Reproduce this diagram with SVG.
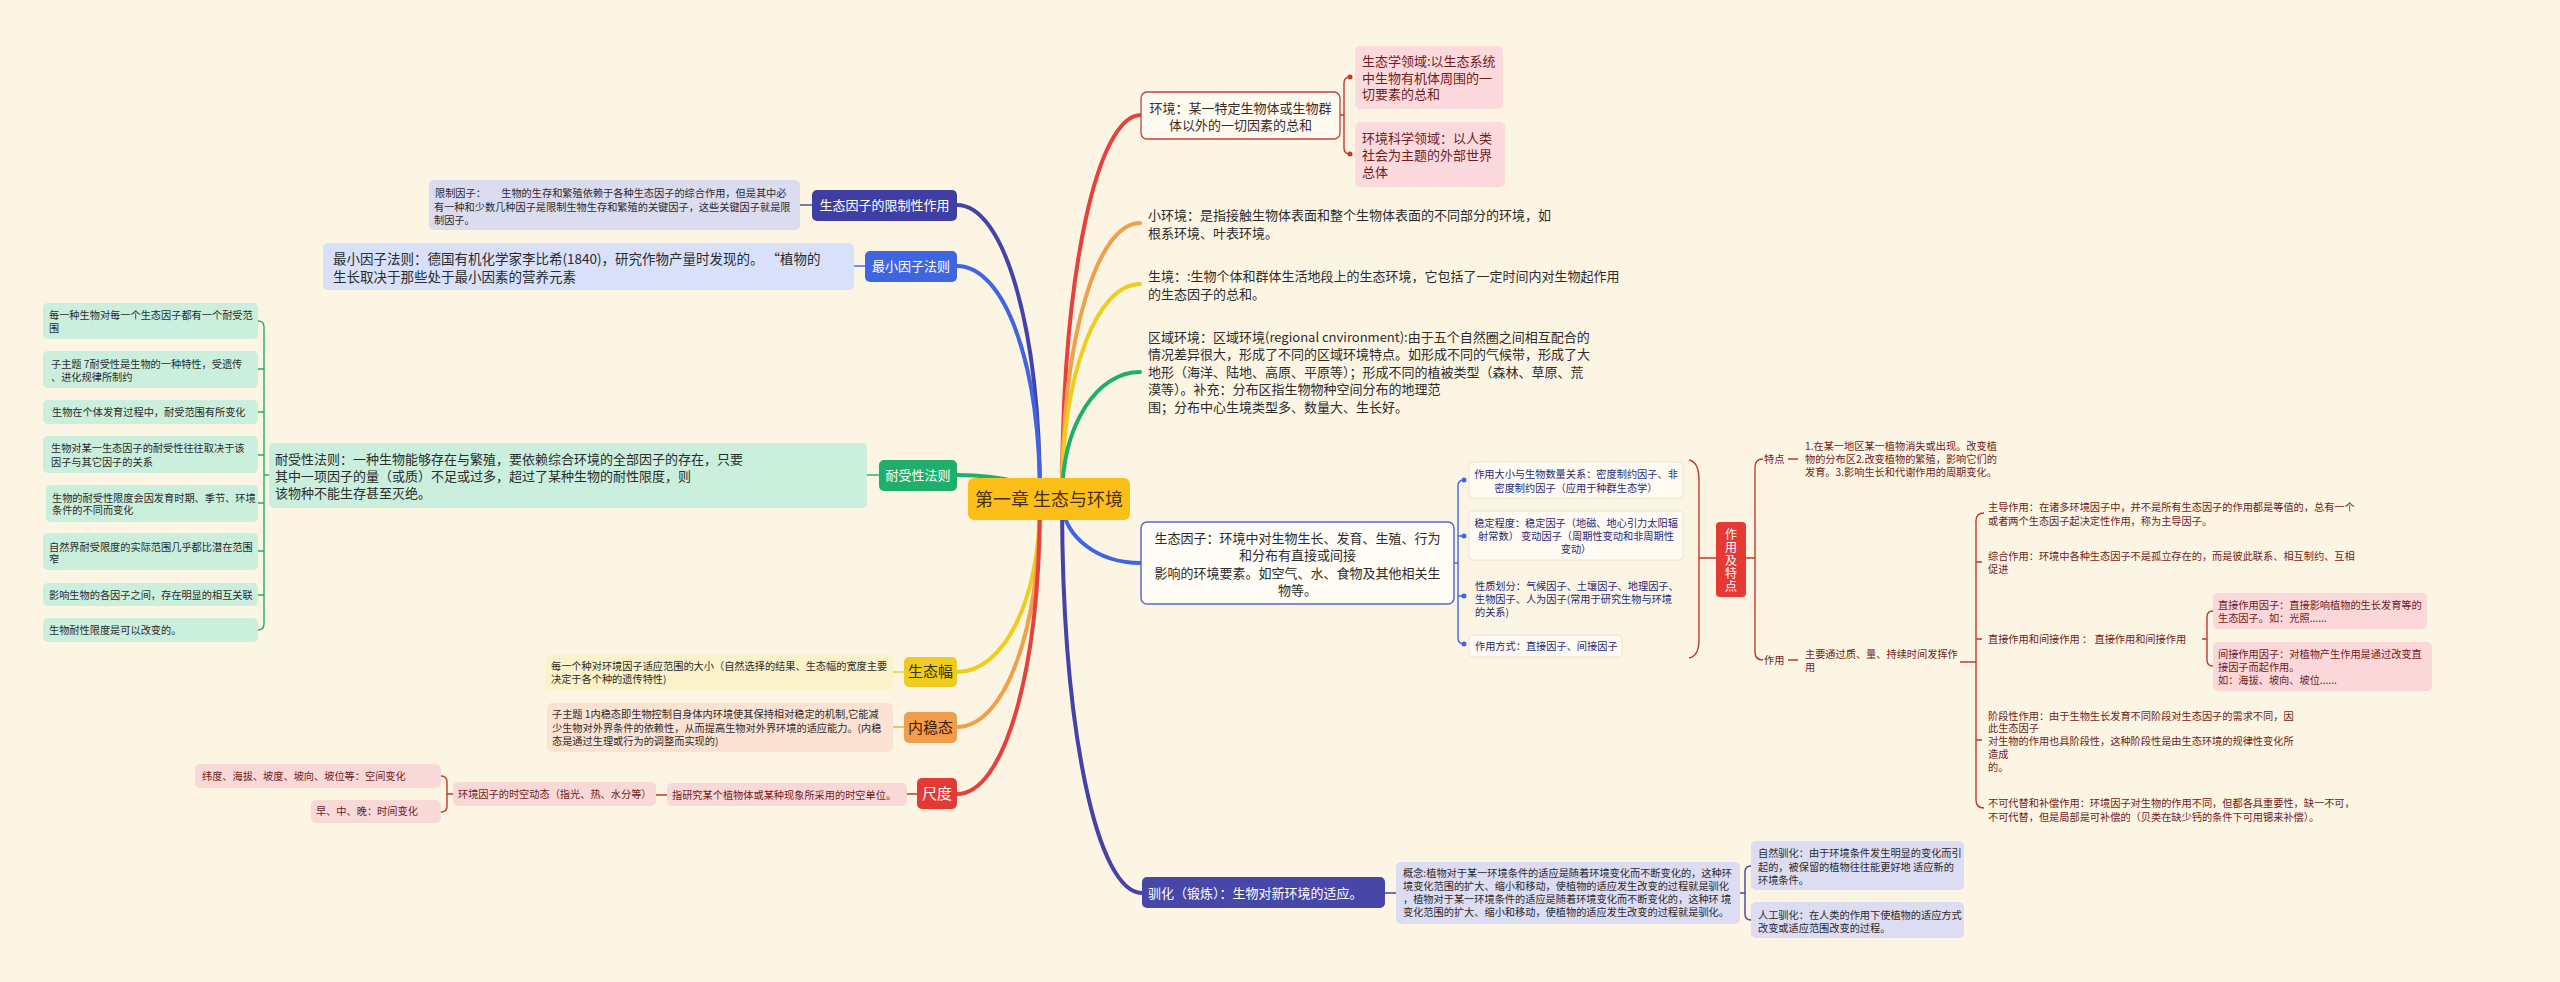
<svg xmlns="http://www.w3.org/2000/svg" width="2560" height="982" viewBox="0 0 2560 982">
<style>
text{font-family:"Noto Sans CJK SC","Liberation Sans",sans-serif;}
.s{font-size:10.2px;}
.m{font-size:13px;}
.l{font-size:13.5px;}
.x{font-size:15px;}
.c{text-anchor:middle;}
.w{fill:#ffffff;}
.dk{fill:#2b2b2b;}
.dr{fill:#6e1c1c;}
.nv{fill:#1f2a78;}
.br{fill:none;stroke-width:1.4;}
.cn{fill:none;stroke-width:4;stroke-linecap:round;}
.red{stroke:#e8403a;} .ora{stroke:#f0a04b;} .yel{stroke:#efcc20;} .grn{stroke:#1fae6b;} .blu{stroke:#3f66e0;} .ind{stroke:#4343a8;} .drd{stroke:#c0392b;}
</style>
<rect x="0" y="0" width="2560" height="982" fill="#fdf5e3"/>

<g id="connectors">
  <path class="cn red" d="M1062,499 C1062,269 1098,115 1141,115"/>
  <path class="cn ora" d="M1062,499 C1062,333 1098,223 1140,223"/>
  <path class="cn yel" d="M1062,499 C1062,370 1098,284 1140,284"/>
  <path class="cn grn" d="M1062,499 C1062,423 1098,372 1140,372"/>
  <path class="cn blu" d="M1062,499 C1062,537 1098,563 1141,563"/>
  <path class="cn ind" d="M1062,499 C1062,735 1098,893 1142,893"/>
  <path class="cn ind" d="M1040,499 C1040,323 1003,205 957,205"/>
  <path class="cn blu" d="M1040,499 C1040,359 1003,266 957,266"/>
  <path class="cn grn" d="M1040,499 C1040,485 1003,475 957,475"/>
  <path class="cn yel" d="M1040,499 C1040,603 1003,672 957,672"/>
  <path class="cn ora" d="M1040,499 C1040,636 1003,727 957,727"/>
  <path class="cn red" d="M1040,499 C1040,676 1003,794 957,794"/>

  <path class="br ind" d="M800,205 H812"/>
  <path class="br blu" d="M854,266 H865"/>
  <path class="br grn" d="M867,475 H879"/>
  <path class="br grn" d="M258,321 Q264,321 264,327 L264,624 Q264,630 258,630 M258,369 H264 M258,412 H264 M258,455 H264 M258,503 H264 M258,551 H264 M258,595 H264 M264,475 H269"/>
  <path class="br yel" d="M893,672 H904"/>
  <path class="br ora" d="M893,727 H904"/>
  <path class="br drd" d="M907,794 H917 M656,795 H667"/>
  <path class="br drd" d="M441,776 Q447,776 447,782 L447,806 Q447,812 441,812 M447,794 H453"/>

  <path class="br drd" d="M1340,115 H1344 M1350,77 Q1344,77 1344,83 L1344,148 Q1344,154 1350,154"/>
  <circle cx="1350" cy="77" r="2.5" fill="#c0392b"/>
  <circle cx="1350" cy="154" r="2.5" fill="#c0392b"/>
  <path class="br blu" d="M1454,563 H1458 M1464,480 Q1458,480 1458,486 L1458,638 Q1458,644 1464,644 M1458,536 H1464 M1458,596 H1464"/>
  <circle cx="1464" cy="480" r="2.5" fill="#3f66e0"/>
  <circle cx="1464" cy="536" r="2.5" fill="#3f66e0"/>
  <circle cx="1464" cy="596" r="2.5" fill="#3f66e0"/>
  <circle cx="1464" cy="644" r="2.5" fill="#3f66e0"/>
  <path class="br drd" d="M1689,460 Q1699,462 1699,480 L1699,640 Q1699,656 1689,658 M1699,558 H1716"/>
  <path class="br drd" d="M1746,558 H1755 M1763,459 Q1755,459 1755,467 L1755,652 Q1755,660 1763,660"/>
  <path class="br drd" d="M1788,459 H1798 M1788,660 H1798 M1960,662 H1976"/>
  <path class="br drd" d="M1984,513 Q1976,513 1976,521 L1976,800 Q1976,808 1984,808 M1976,562 H1982 M1976,639 H1982 M1976,740 H1982"/>
  <path class="br drd" d="M2202,639 H2207 M2213,611 Q2207,611 2207,617 L2207,660 Q2207,666 2213,666"/>
  <path class="br ind" d="M1385,893 H1396 M1740,893 H1745 M1751,866 Q1745,866 1745,872 L1745,914 Q1745,920 1751,920"/>
</g>

<g id="root">
  <rect x="968" y="478" width="162" height="42" rx="6" fill="#fbbf17"/>
  <text x="1049" y="505.5" class="c" font-size="18" fill="#4a3000">第一章 生态与环境</text>
</g>

<g id="limit-factor">
  <rect x="429" y="180" width="371" height="50" rx="5" fill="#dcdcf0"/>
  <text class="s dk" x="435" y="196.6">限制因子：　　生物的生存和繁殖依赖于各种生态因子的综合作用，但是其中必</text>
  <text class="s dk" x="434" y="210.6">有一种和少数几种因子是限制生物生存和繁殖的关键因子，这些关键因子就是限</text>
  <text class="s dk" x="434" y="223.6">制因子。</text>
</g>
<g id="limit-branch">
  <rect x="812" y="190" width="145" height="31" rx="5" fill="#3f3fa3"/>
  <text class="m c w" x="884.5" y="210.2">生态因子的限制性作用</text>
</g>
<g id="min-law-text">
  <rect x="323" y="243" width="531" height="47" rx="5" fill="#d8e1f9"/>
  <text class="l dk" x="333" y="264">最小因子法则：德国有机化学家李比希(1840)，研究作物产量时发现的。 “植物的</text>
  <text class="l dk" x="333" y="282">生长取决于那些处于最小因素的营养元素</text>
</g>
<g id="min-law">
  <rect x="865" y="251" width="92" height="31" rx="5" fill="#3f66e0"/>
  <text class="m c w" x="911" y="271.2">最小因子法则</text>
</g>

<g id="tol-1"><rect x="43" y="303" width="215" height="36" rx="5" fill="#cbefdd"/>
  <text class="s dk" x="49" y="318.6">每一种生物对每一个生态因子都有一个耐受范</text><text class="s dk" x="49" y="331.6">围</text></g>
<g id="tol-2"><rect x="43" y="351" width="215" height="37" rx="5" fill="#cbefdd"/>
  <text class="s dk" x="51" y="367.6">子主题 7耐受性是生物的一种特性，受遗传</text><text class="s dk" x="51" y="380.6">、进化规律所制约</text></g>
<g id="tol-3"><rect x="43" y="400" width="215" height="24" rx="5" fill="#cbefdd"/>
  <text class="s dk" x="52" y="415.6">生物在个体发育过程中，耐受范围有所变化</text></g>
<g id="tol-4"><rect x="43" y="436" width="215" height="37" rx="5" fill="#cbefdd"/>
  <text class="s dk" x="51" y="451.6">生物对某一生态因子的耐受性往往取决于该</text><text class="s dk" x="51" y="465.6">因子与其它因子的关系</text></g>
<g id="tol-5"><rect x="46" y="485" width="212" height="37" rx="5" fill="#cbefdd"/>
  <text class="s dk" x="52" y="501.6">生物的耐受性限度会因发育时期、季节、环境</text><text class="s dk" x="52" y="513.6">条件的不同而变化</text></g>
<g id="tol-6"><rect x="43" y="533" width="215" height="37" rx="5" fill="#cbefdd"/>
  <text class="s dk" x="49" y="550.6">自然界耐受限度的实际范围几乎都比潜在范围</text><text class="s dk" x="49" y="562.6">窄</text></g>
<g id="tol-7"><rect x="43" y="583" width="215" height="23" rx="5" fill="#cbefdd"/>
  <text class="s dk" x="49" y="598.6">影响生物的各因子之间，存在明显的相互关联</text></g>
<g id="tol-8"><rect x="43" y="618" width="215" height="24" rx="5" fill="#cbefdd"/>
  <text class="s dk" x="49" y="633.6">生物耐性限度是可以改变的。</text></g>

<g id="tol-law-text">
  <rect x="269" y="443" width="598" height="65" rx="5" fill="#cbefdd"/>
  <text class="m dk" x="275" y="463.6">耐受性法则：一种生物能够存在与繁殖，要依赖综合环境的全部因子的存在，只要</text>
  <text class="m dk" x="275" y="480.6">其中一项因子的量（或质）不足或过多，超过了某种生物的耐性限度，则</text>
  <text class="m dk" x="275" y="497.6">该物种不能生存甚至灭绝。</text>
</g>
<g id="tol-law">
  <rect x="879" y="460" width="78" height="31" rx="5" fill="#1fae6b"/>
  <text class="m c w" x="918" y="480.2">耐受性法则</text>
</g>

<g id="niche-text">
  <rect x="545" y="655" width="348" height="35" rx="5" fill="#faf2c8"/>
  <text class="s dk" x="551" y="669.6">每一个种对环境因子适应范围的大小（自然选择的结果、生态幅的宽度主要</text>
  <text class="s dk" x="551" y="682.6">决定于各个种的遗传特性)</text>
</g>
<g id="niche">
  <rect x="904" y="657" width="53" height="30" rx="5" fill="#efcc20"/>
  <text class="x c" x="930.5" y="677.3" fill="#3a3000">生态幅</text>
</g>
<g id="homeo-text">
  <rect x="547" y="703" width="346" height="49" rx="5" fill="#fbe2d2"/>
  <text class="s dk" x="552" y="717.6">子主题 1内稳态即生物控制自身体内环境使其保持相对稳定的机制,它能减</text>
  <text class="s dk" x="552" y="731.6">少生物对外界条件的依赖性，从而提高生物对外界环境的适应能力。(内稳</text>
  <text class="s dk" x="552" y="744.6">态是通过生理或行为的调整而实现的)</text>
</g>
<g id="homeo">
  <rect x="904" y="712" width="53" height="31" rx="5" fill="#f29d4c"/>
  <text class="x c" x="930.5" y="732.8" fill="#3a2000">内稳态</text>
</g>
<g id="scale-text">
  <rect x="667" y="783" width="240" height="23" rx="5" fill="#f9d8d8"/>
  <text class="s dr" x="672" y="798.6">指研究某个植物体或某种现象所采用的时空单位。</text>
</g>
<g id="scale">
  <rect x="917" y="778" width="40" height="31" rx="5" fill="#e53935"/>
  <text class="x c w" x="937" y="798.8">尺度</text>
</g>
<g id="scale-dyn">
  <rect x="453" y="782" width="203" height="24" rx="5" fill="#f9d8d8"/>
  <text class="s dr" x="458" y="797.6">环境因子的时空动态（指光、热、水分等）</text>
</g>
<g id="scale-space">
  <rect x="195" y="764" width="246" height="24" rx="5" fill="#f9d8d8"/>
  <text class="s dr" x="202" y="779.6">纬度、海拔、坡度、坡向、坡位等：空间变化</text>
</g>
<g id="scale-time">
  <rect x="311" y="800" width="130" height="23" rx="5" fill="#f9d8d8"/>
  <text class="s dr" x="316" y="815.1">早、中、晚：时间变化</text>
</g>

<g id="env">
  <rect x="1141" y="92" width="199" height="47" rx="6" fill="#fffaf0" stroke="#c4423a" stroke-width="1.3"/>
  <text class="m c" x="1240.5" y="112.6" fill="#3a2a2a">环境：某一特定生物体或生物群</text>
  <text class="m c" x="1240.5" y="129.6" fill="#3a2a2a">体以外的一切因素的总和</text>
</g>
<g id="env-eco">
  <rect x="1355" y="46" width="148" height="63" rx="5" fill="#fcd9dc"/>
  <text class="m dr" x="1362" y="65.6">生态学领域:以生态系统</text>
  <text class="m dr" x="1362" y="82.6">中生物有机体周围的一</text>
  <text class="m dr" x="1362" y="98.6">切要素的总和</text>
</g>
<g id="env-sci">
  <rect x="1355" y="122" width="150" height="65" rx="5" fill="#fcd9dc"/>
  <text class="m dr" x="1362" y="142.6">环境科学领域：以人类</text>
  <text class="m dr" x="1362" y="159.6">社会为主题的外部世界</text>
  <text class="m dr" x="1362" y="176.6">总体</text>
</g>
<g id="micro-env">
  <text class="m dk" x="1148" y="219.6">小环境：是指接触生物体表面和整个生物体表面的不同部分的环境，如</text>
  <text class="m dk" x="1148" y="237.6">根系环境、叶表环境。</text>
</g>
<g id="habitat">
  <text class="m dk" x="1148" y="280.6">生境：:生物个体和群体生活地段上的生态环境，它包括了一定时间内对生物起作用</text>
  <text class="m dk" x="1148" y="298.6">的生态因子的总和。</text>
</g>
<g id="region-env">
  <text class="m dk" x="1148" y="341.6">区域环境：区域环境(regional cnvironment):由于五个自然圈之间相互配合的</text>
  <text class="m dk" x="1148" y="359.1">情况差异很大，形成了不同的区域环境特点。如形成不同的气候带，形成了大</text>
  <text class="m dk" x="1148" y="376.6">地形（海洋、陆地、高原、平原等）；形成不同的植被类型（森林、草原、荒</text>
  <text class="m dk" x="1148" y="394.1">漠等）。补充：分布区指生物物种空间分布的地理范</text>
  <text class="m dk" x="1148" y="411.6">围；分布中心生境类型多、数量大、生长好。</text>
</g>
<g id="eco-factor">
  <rect x="1141" y="522" width="313" height="82" rx="6" fill="#fffcf5" stroke="#5a6ac4" stroke-width="1.5"/>
  <text class="m c dk" x="1297.5" y="542.6">生态因子：环境中对生物生长、发育、生殖、行为</text>
  <text class="m c dk" x="1297.5" y="559.6">和分布有直接或间接</text>
  <text class="m c dk" x="1297.5" y="577.6">影响的环境要素。如空气、水、食物及其他相关生</text>
  <text class="m c dk" x="1297.5" y="594.6">物等。</text>
</g>
<g id="ef-1">
  <rect x="1469" y="462" width="214" height="36" rx="4" fill="#fffbf2" stroke="#ece3d2"/>
  <text class="s c nv" x="1576" y="477.6">作用大小与生物数量关系：密度制约因子、非</text>
  <text class="s c nv" x="1576" y="491.6">密度制约因子（应用于种群生态学）</text>
</g>
<g id="ef-2">
  <rect x="1469" y="511" width="214" height="49" rx="4" fill="#fffbf2" stroke="#ece3d2"/>
  <text class="s c nv" x="1576" y="526.6">稳定程度：稳定因子（地磁、地心引力太阳辐</text>
  <text class="s c nv" x="1576" y="539.6">射常数） 变动因子（周期性变动和非周期性</text>
  <text class="s c nv" x="1576" y="552.6">变动）</text>
</g>
<g id="ef-3">
  <text class="s nv" x="1475" y="589.6">性质划分：气候因子、土壤因子、地理因子、</text>
  <text class="s nv" x="1475" y="602.6">生物因子、人为因子(常用于研究生物与环境</text>
  <text class="s nv" x="1475" y="615.6">的关系)</text>
</g>
<g id="ef-4">
  <rect x="1469" y="635" width="153" height="22" rx="4" fill="#fffbf2" stroke="#ece3d2"/>
  <text class="s nv" x="1475" y="649.6">作用方式：直接因子、间接因子</text>
</g>
<g id="role-feature">
  <rect x="1716" y="522" width="30" height="75" rx="4" fill="#e53935"/>
  <text x="1731" y="539.2" font-size="12" class="c w">作</text>
  <text x="1731" y="552.2" font-size="12" class="c w">用</text>
  <text x="1731" y="565.2" font-size="12" class="c w">及</text>
  <text x="1731" y="578.2" font-size="12" class="c w">特</text>
  <text x="1731" y="591.2" font-size="12" class="c w">点</text>
</g>
<g id="feature">
  <text class="s dr" x="1764" y="462.6">特点</text>
  <text class="s dr" x="1805" y="449.6">1.在某一地区某一植物消失或出现。改变植</text>
  <text class="s dr" x="1805" y="462.6">物的分布区2.改变植物的繁殖，影响它们的</text>
  <text class="s dr" x="1805" y="475.6">发育。3.影响生长和代谢作用的周期变化。</text>
</g>
<g id="role">
  <text class="s dr" x="1764" y="663.6">作用</text>
  <text class="s dr" x="1805" y="657.6">主要通过质、量、持续时间发挥作</text>
  <text class="s dr" x="1805" y="670.6">用</text>
</g>
<g id="role-main">
  <text class="s dr" x="1988" y="510.6">主导作用：在诸多环境因子中，并不是所有生态因子的作用都是等值的，总有一个</text>
  <text class="s dr" x="1988" y="524.6">或者两个生态因子起决定性作用，称为主导因子。</text>
</g>
<g id="role-combo">
  <text class="s dr" x="1988" y="559.6">综合作用：环境中各种生态因子不是孤立存在的，而是彼此联系、相互制约、互相</text>
  <text class="s dr" x="1988" y="572.6">促进</text>
</g>
<g id="role-direct">
  <text class="s dr" x="1988" y="642.6">直接作用和间接作用 ： 直接作用和间接作用</text>
</g>
<g id="direct-factor">
  <rect x="2213" y="593" width="214" height="36" rx="5" fill="#fbd7da"/>
  <text class="s dr" x="2218" y="608.6">直接作用因子：直接影响植物的生长发育等的</text>
  <text class="s dr" x="2218" y="621.6">生态因子。如：光照......</text>
</g>
<g id="indirect-factor">
  <rect x="2213" y="642" width="219" height="49" rx="5" fill="#fbd7da"/>
  <text class="s dr" x="2218" y="657.6">间接作用因子：对植物产生作用是通过改变直</text>
  <text class="s dr" x="2218" y="670.6">接因子而起作用。</text>
  <text class="s dr" x="2218" y="683.6">如：海拔、坡向、坡位......</text>
</g>
<g id="role-stage">
  <text class="s dr" x="1988" y="719.6">阶段性作用：由于生物生长发育不同阶段对生态因子的需求不同，因</text>
  <text class="s dr" x="1988" y="732.4">此生态因子</text>
  <text class="s dr" x="1988" y="745.2">对生物的作用也具阶段性，这种阶段性是由生态环境的规律性变化所</text>
  <text class="s dr" x="1988" y="758">造成</text>
  <text class="s dr" x="1988" y="770.8">的。</text>
</g>
<g id="role-irreplace">
  <text class="s dr" x="1988" y="806.6">不可代替和补偿作用：环境因子对生物的作用不同，但都各具重要性，缺一不可，</text>
  <text class="s dr" x="1988" y="820.6">不可代替，但是局部是可补偿的（贝类在缺少钙的条件下可用锶来补偿）。</text>
</g>
<g id="domest">
  <rect x="1142" y="877" width="243" height="31" rx="5" fill="#4747a8"/>
  <text class="m w" x="1148" y="897.6">驯化（锻炼）：生物对新环境的适应。</text>
</g>
<g id="domest-concept">
  <rect x="1396" y="862" width="344" height="62" rx="5" fill="#dcdcf2"/>
  <text class="s dk" x="1403" y="876.6">概念:植物对于某一环境条件的适应是随着环境变化而不断变化的，这种环</text>
  <text class="s dk" x="1403" y="889.6">境变化范围的扩大、缩小和移动，使植物的适应发生改变的过程就是驯化</text>
  <text class="s dk" x="1403" y="902.6">，植物对于某一环境条件的适应是随着环境变化而不断变化的，这种环 境</text>
  <text class="s dk" x="1403" y="915.6">变化范围的扩大、缩小和移动，使植物的适应发生改变的过程就是驯化。</text>
</g>
<g id="domest-natural">
  <rect x="1751" y="841" width="213" height="49" rx="5" fill="#dcdcf2"/>
  <text class="s dk" x="1758" y="856.6">自然驯化：由于环境条件发生明显的变化而引</text>
  <text class="s dk" x="1758" y="870.6">起的，被保留的植物往往能更好地 适应新的</text>
  <text class="s dk" x="1758" y="883.6">环境条件。</text>
</g>
<g id="domest-artificial">
  <rect x="1751" y="902" width="213" height="36" rx="5" fill="#dcdcf2"/>
  <text class="s dk" x="1758" y="918.6">人工驯化：在人类的作用下使植物的适应方式</text>
  <text class="s dk" x="1758" y="931.6">改变或适应范围改变的过程。</text>
</g>
</svg>
